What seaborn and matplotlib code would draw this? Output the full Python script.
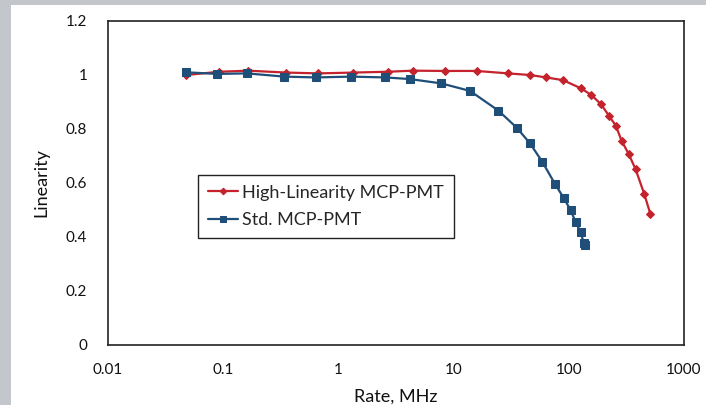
import matplotlib
matplotlib.use("Agg")
import matplotlib.pyplot as plt
import matplotlib.patches as mpatches
import seaborn as sns
import pandas as pd

# Data
hl_rate = [0.048, 0.092, 0.165, 0.353, 0.67, 1.35, 2.67, 4.4, 8.5, 15.9, 29.6, 46, 63.5,
           89, 127, 157, 191, 224, 256, 287, 332, 380, 452, 510]
hl_lin = [1.0, 1.012, 1.016, 1.009, 1.006, 1.009, 1.012, 1.016, 1.015, 1.015, 1.006, 1.0,
          0.991, 0.981, 0.951, 0.926, 0.891, 0.848, 0.812, 0.757, 0.706, 0.651, 0.559, 0.486]
std_rate = [0.048, 0.089, 0.161, 0.34, 0.64, 1.29, 2.56, 4.17, 7.8, 13.9, 24.5, 35.3, 46,
            59, 76, 90.5, 103.5, 115, 126.5, 135, 137]
std_lin = [1.01, 1.004, 1.006, 0.994, 0.991, 0.994, 0.991, 0.985, 0.969, 0.941, 0.868,
           0.805, 0.747, 0.678, 0.596, 0.544, 0.5, 0.454, 0.419, 0.377, 0.369]
series_names = ["High-Linearity MCP-PMT", "Std. MCP-PMT"]
x_ticks = [0.01, 0.1, 1, 10, 100, 1000]
x_tick_labels = ["0.01", "0.1", "1", "10", "100", "1000"]
y_ticks = [0, 0.2, 0.4, 0.6, 0.8, 1.0, 1.2]
y_tick_labels = ["0", "0.2", "0.4", "0.6", "0.8", "1", "1.2"]

sns.set_theme(style="white")
plt.rcParams["font.family"] = ["Lato", "DejaVu Sans"]

fig = plt.figure(figsize=(7.06, 4.05), dpi=100)
fig.patch.set_facecolor("white")
# gray frame strips on left and top
fig.patches.append(mpatches.Rectangle((0, 0), 11 / 706, 1, transform=fig.transFigure,
                                      facecolor="#C3C6CA", edgecolor="none", zorder=0))
fig.patches.append(mpatches.Rectangle((0, 1 - 5 / 405), 1, 5 / 405, transform=fig.transFigure,
                                      facecolor="#C3C6CA", edgecolor="none", zorder=0))

ax = fig.add_axes([108 / 706, 1 - 345 / 405, 576 / 706, 324 / 405])

df_hl = pd.DataFrame({"rate": hl_rate, "lin": hl_lin})
df_std = pd.DataFrame({"rate": std_rate, "lin": std_lin})

red = "#C4232D"
blue = "#1F4E79"
sns.lineplot(data=df_hl, x="rate", y="lin", ax=ax, color=red, marker="D", markersize=4.5,
             markeredgecolor=red, linewidth=1.6, sort=False, label=series_names[0])
sns.lineplot(data=df_std, x="rate", y="lin", ax=ax, color=blue, marker="s", markersize=6.0,
             markeredgecolor=blue, linewidth=1.6, sort=False, label=series_names[1])

ax.set_xscale("log")
ax.set_xlim(0.01, 1000)
ax.set_ylim(0, 1.2)
ax.set_xticks(x_ticks)
ax.set_xticklabels(x_tick_labels)
ax.set_yticks(y_ticks)
ax.set_yticklabels(y_tick_labels)
ax.minorticks_off()
ax.tick_params(axis="both", which="major", direction="out", length=4, width=1,
               color="#333333", labelsize=11, labelcolor="#111111")
ax.tick_params(axis="x", pad=9)
ax.tick_params(axis="y", pad=11)
for s in ax.spines.values():
    s.set_visible(True)
    s.set_color("#222222")
    s.set_linewidth(1.2)

ax.set_xlabel("Rate, MHz", fontsize=13, color="#111111", labelpad=8)
ax.set_ylabel("Linearity", fontsize=13, color="#111111", labelpad=12)

leg = ax.legend(loc="upper left", bbox_to_anchor=(0.156, 0.526), fontsize=13,
                frameon=True, fancybox=False, edgecolor="#222222", framealpha=1,
                handlelength=1.7, handletextpad=0.2, borderpad=0.55, labelspacing=0.65,
                borderaxespad=0, markerscale=0.75)
leg.get_frame().set_linewidth(1.0)

fig.savefig("out.png", dpi=100)
